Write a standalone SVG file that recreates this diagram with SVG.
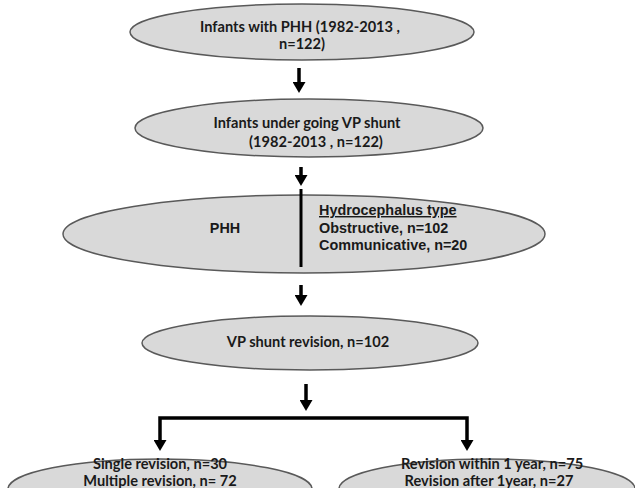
<svg xmlns="http://www.w3.org/2000/svg" width="635" height="488" viewBox="0 0 635 488">
<style>
.node ellipse{fill:#d9d9d9;stroke:#595959;stroke-width:1.5}
.c{font-family:Lato,"Liberation Sans",sans-serif;font-weight:bold;font-size:14.6px;fill:#1a1a1a;text-anchor:middle}
.a{font-family:"Liberation Sans",Arial,sans-serif;font-weight:bold;font-size:14.4px;fill:#1a1a1a}
.conn{fill:none;stroke:#000;stroke-width:3.5}
</style>
<defs>
<marker id="ah" viewBox="0 0 11 13" refX="0" refY="6.5" markerWidth="11" markerHeight="13" markerUnits="userSpaceOnUse" orient="auto-start-reverse">
<path d="M0,0 L11,6.5 L0,13 z" fill="#000"/>
</marker>
</defs>
<g id="n1" class="node">
<ellipse cx="302" cy="32" rx="172" ry="28"/>
<text class="c" x="300" y="32">Infants with PHH (1982-2013 ,</text>
<text class="c" x="302" y="49">n=122)</text>
</g>
<g id="n2" class="node">
<ellipse cx="309" cy="128" rx="174" ry="29"/>
<text class="c" x="307" y="128">Infants under going VP shunt</text>
<text class="c" x="316" y="147">(1982-2013 , n=122)</text>
</g>
<g id="n3" class="node">
<ellipse cx="304" cy="234" rx="241" ry="39"/>
<line x1="301" y1="189" x2="301" y2="267" stroke="#000" stroke-width="3"/>
<text class="a" x="225" y="233" font-size="16" text-anchor="middle">PHH</text>
<text class="a" x="319" y="215" text-decoration="underline">Hydrocephalus type</text>
<text class="a" x="319" y="233">Obstructive, n=102</text>
<text class="a" x="319" y="250">Communicative, n=20</text>
</g>
<g id="n4" class="node">
<ellipse cx="310" cy="343" rx="168" ry="27"/>
<text class="c" x="308" y="347">VP shunt revision, n=102</text>
</g>
<g id="n5" class="node">
<ellipse cx="160" cy="489" rx="152" ry="30"/>
<text class="c" x="160" y="469">Single revision, n=30</text>
<text class="c" x="160" y="486">Multiple revision, n= 72</text>
</g>
<g id="n6" class="node">
<ellipse cx="487" cy="489" rx="148" ry="30"/>
<text class="c" x="492" y="469">Revision within 1 year, n=75</text>
<text class="c" x="489" y="486">Revision after 1year, n=27</text>
</g>
<g id="connectors">
<path class="conn" d="M299,68 V82" marker-end="url(#ah)"/>
<path class="conn" d="M301,167 V175" marker-end="url(#ah)"/>
<path class="conn" d="M301,285 V295" marker-end="url(#ah)"/>
<path class="conn" d="M306,384 V400" marker-end="url(#ah)"/>
<path class="conn" d="M160,440 V418 H467 V440" marker-start="url(#ah)" marker-end="url(#ah)"/>
</g>
</svg>
